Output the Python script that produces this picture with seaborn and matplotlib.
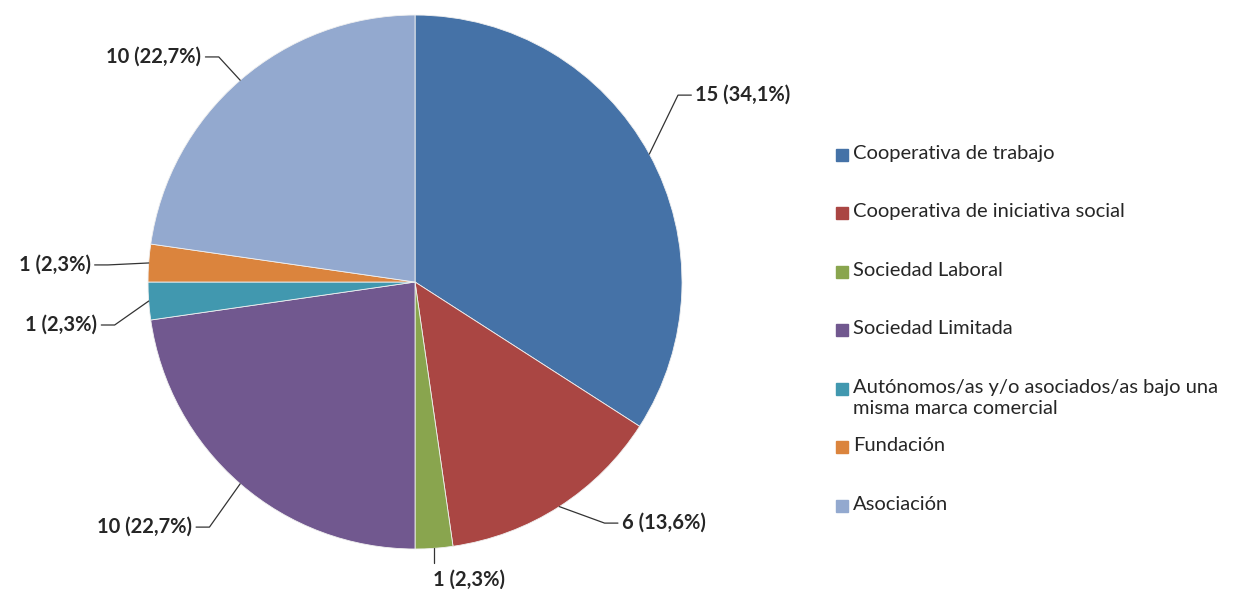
import numpy as np
import matplotlib
matplotlib.use("Agg")
import matplotlib.pyplot as plt
import seaborn as sns

# Tipo de entidad
categories = ["Cooperativa de trabajo",
              "Cooperativa de iniciativa social",
              "Sociedad Laboral",
              "Sociedad Limitada",
              "Autónomos/as y/o asociados/as bajo una\nmisma marca comercial",
              "Fundación",
              "Asociación"]
counts = [15, 6, 1, 10, 1, 1, 10]
colors = ["#4572A7", "#AA4643", "#89A54E", "#71588F", "#4198AF", "#DB843D", "#93A9CF"]

sns.set_theme(style="white")
plt.rcParams["font.family"] = ["Lato", "DejaVu Sans"]

fig = plt.figure(figsize=(12.45, 5.89), dpi=100)
ax = fig.add_axes([0.1189, 0.0679, 0.4289, 0.9066])
pal = sns.color_palette(colors)
wedges, _ = ax.pie(counts, colors=pal, startangle=90, counterclock=False,
                   wedgeprops=dict(edgecolor="#f0f0f0", linewidth=0.6))
ax.set_xlim(-1, 1)
ax.set_ylim(-1, 1)
ax.set_aspect("equal")
ax.axis("off")

# label placement (pie units) and which side the text sits on
label_pos = [(1.05, 0.70, "left"), (0.775, -0.903, "left"), (0.067, -1.116, "below"),
             (-0.835, -0.918, "right"), (-1.19, -0.161, "right"),
             (-1.215, 0.064, "right"), (-0.80, 0.843, "right")]

total = sum(counts)
for w, n, (tx, ty, side) in zip(wedges, counts, label_pos):
    ang = np.deg2rad((w.theta1 + w.theta2) / 2)
    ex, ey = np.cos(ang), np.sin(ang)
    txt = f"{n} ({n / total * 100:.1f}%)".replace(".", ",")
    if side == "below":
        ax.plot([ex, ex], [ey, ty + 0.065], color="#333333", lw=0.9, clip_on=False)
        ax.text(tx, ty, txt, ha="left", va="center", fontsize=14.5, fontweight="bold")
        continue
    d = 1 if side == "left" else -1
    end = tx - d * 0.015
    elbow = end - d * 0.05
    ax.plot([ex, elbow, end], [ey, ty, ty], color="#333333", lw=0.9, clip_on=False)
    ax.text(tx, ty, txt, ha="left" if d == 1 else "right", va="center",
            fontsize=14.5, fontweight="bold")

# legend, one slot per entry
y0, step = 1 - 155 / 589, 58.5 / 589
for i, (lab, c) in enumerate(zip(categories, pal)):
    y = y0 - i * step
    fig.patches.append(plt.Rectangle((836 / 1245, y - 6 / 589), 12 / 1245, 12 / 589,
                                     transform=fig.transFigure, color=c))
    fig.text(853 / 1245, y + 10 / 589, lab, ha="left", va="top", fontsize=14.5,
             linespacing=1.3)

fig.savefig("out.png", dpi=100)
